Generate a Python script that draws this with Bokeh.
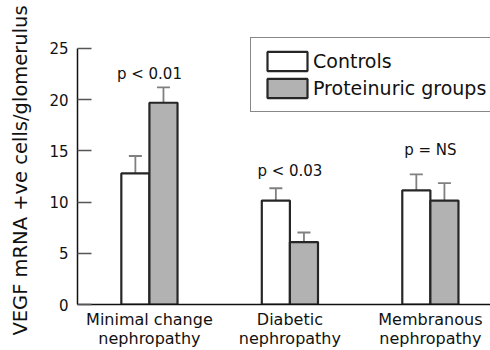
from bokeh.plotting import figure
from bokeh.models import (ColumnDataSource, Range1d, FixedTicker, Legend, LegendItem,
                          Whisker, TeeHead)
from bokeh.embed import file_html
from bokeh.resources import INLINE
from bokeh.core.properties import value

# ---- data ----
groups = ["Minimal change\nnephropathy", "Diabetic\nnephropathy", "Membranous\nnephropathy"]
controls = [12.8, 10.15, 11.15]
controls_err = [1.7, 1.2, 1.55]
proteinuric = [19.7, 6.1, 10.15]
proteinuric_err = [1.5, 0.93, 1.7]
p_values = ["p < 0.01", "p < 0.03", "p = NS"]
p_label_y = [22.5, 13.0, 15.1]
y_ticks = [0, 5, 10, 15, 20, 25]

FONT = "DejaVu Sans"
TXT = "#111111"

pos = [i + 1 for i in range(len(groups))]
off = 0.1
bw = 0.2

src_c = ColumnDataSource(dict(
    x=[p - off for p in pos], top=controls,
    upper=[v + e for v, e in zip(controls, controls_err)], lower=controls))
src_p = ColumnDataSource(dict(
    x=[p + off for p in pos], top=proteinuric,
    upper=[v + e for v, e in zip(proteinuric, proteinuric_err)], lower=proteinuric))
src_t = ColumnDataSource(dict(x=pos, y=p_label_y, text=p_values))

p = figure(width=490, height=350, output_backend="svg", toolbar_location=None,
           x_range=Range1d(0.488, 3.428), y_range=Range1d(0, 26.17),
           min_border_left=77, min_border_right=0, min_border_top=36, min_border_bottom=45)
p.outline_line_color = None
p.grid.visible = False
p.background_fill_color = "white"
p.border_fill_color = "white"

# error bars
ERR = "#808080"
for src in (src_c, src_p):
    w = Whisker(base="x", upper="upper", lower="lower", source=src,
                line_color=ERR, line_width=1.8,
                upper_head=TeeHead(size=13, line_color=ERR, line_width=1.8),
                lower_head=None)
    p.add_layout(w)

r_c = p.vbar(x="x", top="top", width=bw, bottom=0, source=src_c,
             fill_color="white", line_color="#262626", line_width=2.2)
r_p = p.vbar(x="x", top="top", width=bw, bottom=0, source=src_p,
             fill_color="#b2b2b2", line_color="#262626", line_width=2.2)

p.text(x="x", y="y", text="text", source=src_t, text_align="center",
       text_baseline="alphabetic", text_font=value(FONT), text_font_size="15px",
       text_color=TXT)

# axes
p.xaxis.ticker = FixedTicker(ticks=pos)
p.xaxis.major_label_overrides = {k: g for k, g in zip(pos, groups)}
p.xaxis.major_tick_line_color = None
p.xaxis.minor_tick_line_color = None
p.xaxis.axis_line_color = "#111111"
p.xaxis.axis_line_width = 1.5
p.xaxis.major_label_text_font = FONT
p.xaxis.major_label_text_font_size = "16px"
p.xaxis.major_label_text_line_height = 1.0
p.xaxis.major_label_text_color = TXT
p.xaxis.major_label_standoff = -1

p.yaxis.ticker = FixedTicker(ticks=y_ticks)
p.yaxis.bounds = (0, 25)
p.yaxis.minor_tick_line_color = None
p.yaxis.major_tick_in = 14
p.yaxis.major_tick_out = 0
p.yaxis.major_tick_line_color = "#555555"
p.yaxis.major_tick_line_width = 1.5
p.yaxis.axis_line_color = "#111111"
p.yaxis.axis_line_width = 1.5
p.yaxis.major_label_text_font = FONT
p.yaxis.major_label_text_font_size = "15px"
p.yaxis.major_label_text_color = TXT
p.yaxis.major_label_standoff = 9
p.yaxis.axis_label = "VEGF mRNA +ve cells/glomerulus"
p.yaxis.axis_label_text_font = FONT
p.yaxis.axis_label_text_font_size = "19.5px"
p.yaxis.axis_label_text_font_style = "normal"
p.yaxis.axis_label_text_color = TXT
p.yaxis.axis_label_standoff = 14

legend = Legend(items=[LegendItem(label="Controls", renderers=[r_c]),
                       LegendItem(label="Proteinuric groups", renderers=[r_p])],
                location=(173, 192), orientation="vertical",
                padding=11, spacing=3, margin=0,
                glyph_width=50, glyph_height=24, label_height=24, label_standoff=1,
                label_text_font=FONT, label_text_font_size="19px", label_text_color=TXT,
                border_line_color="#111111", border_line_width=1.5,
                background_fill_color="white", background_fill_alpha=1.0)
p.add_layout(legend)

open("out.html", "w").write(file_html(p, INLINE))
